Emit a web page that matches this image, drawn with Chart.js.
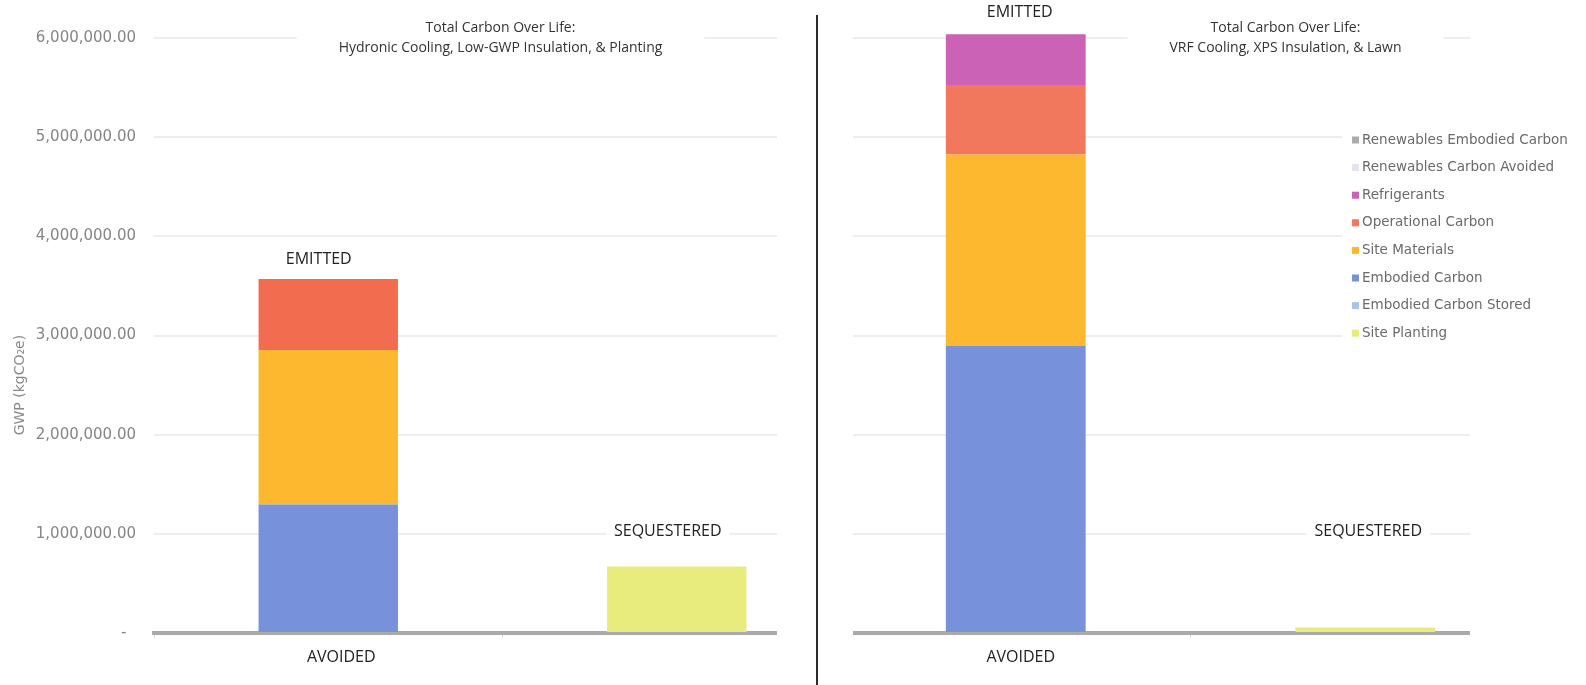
<!DOCTYPE html>
<html>
<head>
<meta charset="utf-8">
<script src="https://cdn.jsdelivr.net/npm/chart.js@4.4.1/dist/chart.umd.min.js"></script>
<style>
  html, body { margin: 0; padding: 0; background: #fff; }
  #page { position: relative; width: 1586px; height: 685px; overflow: hidden; }
  .wrap { position: absolute; top: 0; height: 685px; }
  #divider { position: absolute; left: 816px; top: 15px; width: 1.5px; height: 670px; background: #2b2b2b; }
</style>
</head>
<body>
<div id="page">
  <div class="wrap" style="left:0;width:860px"><canvas id="chartHydronic" width="860" height="685"></canvas></div>
  <div class="wrap" style="left:800px;width:786px"><canvas id="chartVrf" width="786" height="685"></canvas></div>
  <div id="divider"></div>
</div>
<script>
const categories = ["EMITTED", "SEQUESTERED"]

// stacking order, bottom to top
const seriesNames = ["Site Planting", "Embodied Carbon Stored", "Embodied Carbon", "Site Materials",
  "Operational Carbon", "Refrigerants", "Renewables Carbon Avoided", "Renewables Embodied Carbon"]
const seriesColors = ["#e8ec7c", "#aac2ec", "#7792da", "#fdb82f", "#f2785d", "#cc62b6", "#e4e4ea", "#ababab"]

// kgCO2e per series, one array per bar
const hydronicEmitted = [0, 0, 1295000, 1560000, 715000, 0, 0, 0]
const hydronicSequestered = [670000, 0, 0, 0, 0, 0, 0, 0]
const vrfEmitted = [0, 0, 2895000, 1930000, 700000, 512000, 0, 0]
const vrfSequestered = [55000, 0, 0, 0, 0, 0, 0, 0]

const yMax = 6000000
const yStep = 1000000

const hydronicTitle = ["Total Carbon Over Life:", "Hydronic Cooling, Low-GWP Insulation, & Planting"]
const vrfTitle = ["Total Carbon Over Life:", "VRF Cooling, XPS Insulation, & Lawn"]
const yAxisTitle = "GWP (kgCO\u2082e)"

function buildDatasets(emitted, sequestered, colors) {
  return seriesNames.map((name, i) => ({
    label: name,
    data: [emitted[i], sequestered[i]],
    backgroundColor: colors[i],
    borderWidth: 0,
    barPercentage: 0.4,
    categoryPercentage: 1,
    clip: false
  }))
}

function stackTotal(chart, index) {
  return chart.data.datasets.reduce((sum, ds) => sum + ds.data[index], 0)
}

const panelDecor = {
  id: "panelDecor",
  beforeDraw(chart, args, opts) {
    // the panel is cut off at the sides, keep grid and bars inside
    const ctx = chart.ctx
    ctx.save()
    ctx.beginPath()
    ctx.rect(opts.clipLeft, 0, opts.clipRight - opts.clipLeft, chart.height)
    ctx.clip()
  },
  afterDatasetsDraw(chart) {
    chart.ctx.restore()
  },
  afterDraw(chart, args, opts) {
    const { ctx, chartArea } = chart
    const x = chart.scales.x
    const y = chart.scales.y
    ctx.save()
    ctx.textAlign = "center"
    ctx.textBaseline = "middle"

    // two line title on a white box over the top gridline
    ctx.font = "14px 'Open Sans'"
    const tx = (chartArea.left + chartArea.right) / 2 + opts.titleShift
    const tw = Math.max(...opts.title.map(t => ctx.measureText(t).width)) + 84
    ctx.fillStyle = "#fff"
    ctx.fillRect(tx - tw / 2, 20, tw, 38)
    ctx.fillStyle = "#333"
    opts.title.forEach((t, i) => ctx.fillText(t, tx, 28 + i * 20))

    // bar notes
    ctx.font = "16px 'Open Sans'"
    opts.notes.forEach(n => {
      const value = n.value === "stack" ? stackTotal(chart, n.index) : n.value
      const nx = x.getPixelForValue(n.index) + n.dx
      const ny = y.getPixelForValue(value) + n.dy
      const w = ctx.measureText(n.text).width
      ctx.fillStyle = "#fff"
      ctx.fillRect(nx - w / 2 - 8, ny - 10, w + 16, 20)
      ctx.fillStyle = "#222"
      ctx.fillText(n.text, nx, ny)
    })

    if (opts.axisTitle) {
      ctx.save()
      ctx.translate(20, y.getPixelForValue(yMax * 5 / 12))
      ctx.rotate(-Math.PI / 2)
      ctx.font = "14px 'DejaVu Sans'"
      ctx.fillStyle = "#8a8a8a"
      ctx.fillText(opts.axisTitle, 0, 0)
      ctx.restore()
    }

    if (opts.legend) {
      const lg = opts.legend
      ctx.fillStyle = "#fff"
      ctx.fillRect(lg.left, lg.top, chart.width - lg.left, lg.height)
      ctx.font = "13.5px 'DejaVu Sans'"
      ctx.textAlign = "left"
      const items = chart.data.datasets.slice().reverse()
      items.forEach((ds, i) => {
        const iy = lg.top + 15 + i * 27.6
        ctx.fillStyle = ds.backgroundColor
        ctx.fillRect(lg.left + 10, iy - 3.5, 7, 7)
        ctx.fillStyle = "#6a6a6a"
        ctx.fillText(ds.label, lg.left + 20, iy)
      })
    }
    ctx.restore()
  }
}

function makeOptions(showTicks, axisWidth, padding, decor) {
  return {
    responsive: false,
    animation: false,
    layout: { padding },
    plugins: {
      legend: { display: false },
      title: { display: false },
      tooltip: { enabled: false },
      panelDecor: decor
    },
    scales: {
      x: {
        stacked: true,
        offset: true,
        ticks: { display: false },
        grid: { drawOnChartArea: false, drawTicks: true, tickLength: 5, color: "#d6d6d6", offset: true },
        border: { display: true, color: "#aaaaaa", width: 4 },
        afterFit: s => { s.height = 52 }
      },
      y: {
        stacked: true,
        min: 0,
        max: yMax,
        ticks: {
          display: showTicks,
          stepSize: yStep,
          padding: 18,
          color: "#858585",
          font: { family: "DejaVu Sans", size: 15 },
          callback: v => v === 0 ? "-  " : v.toLocaleString("en-US", { minimumFractionDigits: 2 })
        },
        grid: { color: "#eeeeee", lineWidth: 2, drawTicks: false },
        border: { display: false },
        afterFit: s => { s.width = axisWidth }
      }
    }
  }
}

const hydronicColors = seriesColors.slice()
hydronicColors[4] = "#f26c4f"

new Chart(document.getElementById("chartHydronic"), {
  type: "bar",
  data: { labels: categories, datasets: buildDatasets(hydronicEmitted, hydronicSequestered, hydronicColors) },
  options: makeOptions(true, 154, { top: 38, right: 9, bottom: 0, left: 0 }, {
    clipLeft: 0,
    clipRight: 777,
    title: hydronicTitle,
    titleShift: -2,
    axisTitle: yAxisTitle,
    notes: [
      { text: "EMITTED", index: 0, value: "stack", dx: -9.5, dy: -20 },
      { text: "SEQUESTERED", index: 1, value: yStep, dx: -9, dy: -2 },
      { text: "AVOIDED", index: 0, value: 0, dx: 13, dy: 24 }
    ]
  }),
  plugins: [panelDecor]
})

new Chart(document.getElementById("chartVrf"), {
  type: "bar",
  data: { labels: categories, datasets: buildDatasets(vrfEmitted, vrfSequestered, seriesColors) },
  options: makeOptions(false, 0, { top: 38, right: 46, bottom: 0, left: 41 }, {
    clipLeft: 53,
    clipRight: 670,
    title: vrfTitle,
    titleShift: 95,
    notes: [
      { text: "EMITTED", index: 0, value: "stack", dx: 4, dy: -22 },
      { text: "SEQUESTERED", index: 1, value: yStep, dx: 3, dy: -2 },
      { text: "AVOIDED", index: 0, value: 0, dx: 5, dy: 24 }
    ],
    legend: { left: 542, top: 125, height: 223 }
  }),
  plugins: [panelDecor]
})
</script>
</body>
</html>
